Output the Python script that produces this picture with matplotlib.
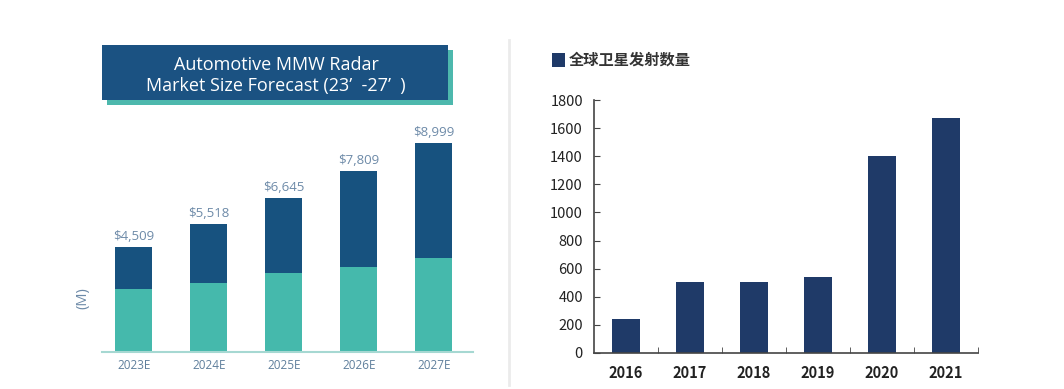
import matplotlib
matplotlib.use("Agg")
import matplotlib.pyplot as plt
from matplotlib.patches import Rectangle

# ---- data ----
radar_years = ["2023E", "2024E", "2025E", "2026E", "2027E"]
radar_total = [4509, 5518, 6645, 7809, 8999]
radar_lower = [2715, 2990, 3420, 3665, 4065]
radar_labels = ["$4,509", "$5,518", "$6,645", "$7,809", "$8,999"]
title_lines = ["Automotive MMW Radar", "Market Size Forecast (23’  -27’  )"]

sat_years = ["2016", "2017", "2018", "2019", "2020", "2021"]
sat_launches = [243, 508, 508, 538, 1400, 1672]
sat_legend = "全球卫星发射数量"

W, H = 1064, 389
fig = plt.figure(figsize=(W / 100, H / 100), dpi=100)
fig.patch.set_facecolor("white")

def px_axes(left, top, right, bottom):
    return fig.add_axes([left / W, 1 - bottom / H, (right - left) / W, (bottom - top) / H])

# overlay for decorations
ov = fig.add_axes([0, 0, 1, 1])
ov.set_xlim(0, W)
ov.set_ylim(H, 0)
ov.axis("off")
ov.set_zorder(0)

# divider
ov.plot([509, 509], [40, 385], color="#ebebeb", lw=2)

# title box with teal shadow
ov.add_patch(Rectangle((107, 50), 346, 55, color="#4db8ad", lw=0))
ov.add_patch(Rectangle((102, 45), 346, 55, color="#1b5282", lw=0))
ov.text(276, 65, title_lines[0], color="white", fontsize=13, family="Open Sans",
        fontweight="medium", ha="center", va="center")
ov.text(276, 86, title_lines[1], color="white", fontsize=13, family="Open Sans",
        fontweight="medium", ha="center", va="center")

# (M) label
ov.text(83, 298, "(M)", color="#6d8aa8", fontsize=10.5, family="Open Sans",
        rotation=90, ha="center", va="center")

# ---- left chart ----
ax1 = px_axes(102, 120, 473, 352)
x1 = list(range(len(radar_years)))
upper = [t - l for t, l in zip(radar_total, radar_lower)]
ax1.bar(x1, radar_lower, width=0.49, color="#45b9ac", zorder=2)
ax1.bar(x1, upper, bottom=radar_lower, width=0.49, color="#17527f", zorder=2)
for xi, t, lab in zip(x1, radar_total, radar_labels):
    ax1.text(xi, t + 180, lab, ha="center", va="bottom", color="#6d8aa8",
             fontsize=9.5, family="Open Sans")
ax1.set_xlim(-0.423, 4.523)
ax1.set_ylim(0, 10000)
ax1.set_xticks(x1)
ax1.set_xticklabels(radar_years, color="#5f7f9c", fontsize=8.5, family="Open Sans")
ax1.tick_params(axis="x", length=0, pad=5)
ax1.set_yticks([])
for s in ["top", "right", "left"]:
    ax1.spines[s].set_visible(False)
ax1.spines["bottom"].set_color("#a6d8d2")
ax1.spines["bottom"].set_linewidth(1.5)
ax1.patch.set_alpha(0)

# ---- right chart ----
cjk = ["Noto Sans CJK SC", "DejaVu Sans"]
ax2 = px_axes(594, 100, 978, 353)
x2 = list(range(len(sat_years)))
ax2.bar(x2, sat_launches, width=0.44, color="#1f3a68", zorder=2)
ax2.set_xlim(-0.5, len(sat_years) - 0.5)
ax2.set_ylim(0, 1800)
ax2.set_yticks(range(0, 1801, 200))
ax2.set_yticklabels([str(v) for v in range(0, 1801, 200)], family=cjk,
                    fontsize=10.5, color="#222222")
ax2.set_xticks(x2)
ax2.set_xticklabels(sat_years, family=cjk, fontsize=10.5, color="#222222", fontweight="semibold")
ax2.set_xticks([i + 0.5 for i in x2], minor=True)
ax2.tick_params(axis="x", which="major", length=0, pad=9)
ax2.tick_params(axis="x", which="minor", direction="in", length=4, color="#444444")
ax2.tick_params(axis="y", direction="in", length=4, color="#444444", pad=8)
for s in ["top", "right"]:
    ax2.spines[s].set_visible(False)
for s in ["left", "bottom"]:
    ax2.spines[s].set_color("#444444")
    ax2.spines[s].set_linewidth(1.2)
ax2.patch.set_alpha(0)

# legend
ov.add_patch(Rectangle((552, 53), 13, 14, color="#1f3a68", lw=0))
ov.text(569, 60, sat_legend, family=cjk, fontsize=11, color="#333333",
        ha="left", va="center", fontweight="bold")

fig.savefig("out.png", dpi=100, facecolor="white")
